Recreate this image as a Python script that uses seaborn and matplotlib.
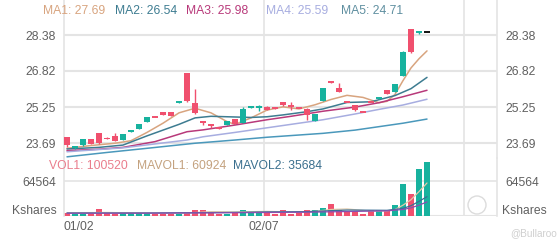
import matplotlib
matplotlib.use("Agg")
import matplotlib.pyplot as plt
from matplotlib.patches import Ellipse
import seaborn as sns
import numpy as np
import pandas as pd

# ---------------- data ----------------
opens  = [23.94, 23.47, 23.60, 23.85, 24.11, 23.92, 23.99, 23.82, 24.18, 24.30,
          24.62, 24.85, 25.02, 25.02, 25.44, 26.74, 25.44, 24.65, 24.51, 24.37,
          24.47, 24.72, 24.57, 25.20, 25.22, 25.27, 25.23, 25.46, 25.31, 25.21,
          25.17, 24.66, 25.53, 26.35, 26.06, 25.49, 25.34, 25.06, 25.49, 25.62,
          25.99, 25.92, 26.60, 28.64, 28.49, 28.50]
closes = [23.60, 23.55, 23.86, 23.65, 23.68, 23.87, 23.79, 24.08, 24.25, 24.51,
          24.81, 24.82, 24.91, 24.86, 25.47, 25.52, 24.98, 24.55, 24.44, 24.35,
          24.65, 24.51, 25.15, 25.30, 25.31, 25.12, 25.21, 25.34, 25.29, 25.19,
          24.91, 24.95, 26.06, 26.33, 25.92, 25.47, 25.12, 25.04, 25.47, 25.64,
          25.82, 26.25, 27.66, 27.66, 28.51, 28.50]
highs  = [23.94, 23.58, 23.88, 23.87, 24.13, 23.94, 24.14, 24.10, 24.26, 24.52,
          24.82, 24.86, 25.03, 25.03, 25.50, 26.75, 26.02, 24.66, 24.52, 24.40,
          24.66, 24.74, 25.27, 25.31, 25.32, 25.28, 25.26, 25.47, 25.48, 25.21,
          25.20, 24.96, 26.08, 26.37, 26.28, 25.49, 25.35, 25.06, 25.49, 25.68,
          26.00, 26.26, 27.67, 28.66, 28.56, 28.50]
lows   = [23.50, 23.44, 23.58, 23.63, 23.66, 23.86, 23.77, 23.80, 24.17, 24.29,
          24.61, 24.81, 24.90, 24.85, 25.42, 25.48, 24.97, 24.47, 24.35, 24.32,
          24.46, 24.50, 24.55, 25.19, 25.09, 25.11, 25.18, 25.30, 25.14, 25.19,
          24.69, 24.65, 25.52, 26.31, 25.90, 25.47, 25.08, 25.04, 25.47, 25.58,
          25.81, 25.91, 26.59, 27.62, 28.44, 28.50]
volumes = [5000, 3500, 3500, 4500, 12500, 5000, 3500, 5500, 5500, 5500,
           5500, 4000, 4500, 4500, 3000, 5500, 11000, 10500, 5000, 4500,
           3000, 7500, 11700, 5500, 5500, 5500, 4000, 11700, 3000, 6000,
           10500, 10500, 15400, 22800, 10500, 9000, 9000, 4500, 11000, 11000,
           11000, 19700, 58400, 41200, 87300, 100520]
vol_up = [0, 1, 1, 0, 0, 0, 0, 1, 1, 1,
          1, 0, 0, 0, 1, 0, 0, 0, 0, 0,
          1, 0, 1, 1, 1, 0, 0, 0, 0, 0,
          0, 1, 1, 0, 0, 0, 0, 0, 0, 1,
          0, 1, 1, 0, 1, 1]

ma1_idx = [0, 3, 6, 8, 10, 12, 14, 16, 18, 20, 21, 23, 25, 27, 29, 31, 33, 35, 37, 39, 40, 41, 42, 43, 44, 45]
ma1_val = [23.46, 23.58, 23.68, 23.79, 24.15, 24.55, 25.00, 25.20, 25.00, 24.62, 24.50, 24.78, 25.12,
           25.26, 25.17, 25.35, 25.58, 25.76, 25.67, 25.44, 25.50, 25.80, 26.40, 26.95, 27.35, 27.69]
ma2_idx = [0, 4, 7, 10, 14, 16, 18, 20, 23, 25, 27, 30, 32, 35, 38, 41, 43, 45]
ma2_val = [23.43, 23.50, 23.60, 24.00, 24.50, 24.78, 24.85, 24.83, 24.80, 24.83, 24.91, 25.05,
           25.17, 25.45, 25.48, 25.75, 26.05, 26.54]
ma3_idx = [0, 4, 7, 11, 15, 17, 21, 25, 28, 32, 36, 39, 42, 45]
ma3_val = [23.36, 23.42, 23.50, 23.75, 24.18, 24.26, 24.47, 24.70, 24.85, 25.07, 25.25, 25.44, 25.70, 25.98]
ma4_idx = [0, 7, 15, 17, 21, 26, 32, 36, 39, 42, 45]
ma4_val = [23.31, 23.48, 23.82, 23.96, 24.15, 24.40, 24.70, 24.95, 25.15, 25.34, 25.59]
ma5_idx = [0, 5, 10, 16, 21, 25, 32, 36, 39, 42, 45]
ma5_val = [23.09, 23.28, 23.46, 23.68, 23.82, 23.94, 24.11, 24.25, 24.40, 24.55, 24.73]

mavol1_idx = [0, 5, 10, 15, 18, 21, 25, 28, 31, 33, 35, 38, 40, 41, 42, 43, 44, 45]
mavol1_val = [6000, 6500, 5500, 5500, 8000, 7500, 8500, 7500, 8500, 12000, 13000, 9000, 9500,
              12000, 20000, 30000, 45000, 60924]
mavol2_idx = [0, 10, 20, 25, 30, 35, 40, 42, 43, 44, 45]
mavol2_val = [5500, 5500, 6500, 7500, 8000, 11000, 10500, 14000, 19000, 27000, 35684]
mavol3_idx = [0, 10, 20, 30, 36, 40, 42, 43, 44, 45]
mavol3_val = [5000, 5200, 6000, 7000, 8500, 9500, 12000, 15000, 20000, 26000]

price_ticks = [28.38, 26.82, 25.25, 23.69]
vol_tick = 64564
date_labels = ["01/02", "02/07"]
legend_ma = ["MA1: 27.69", "MA2: 26.54", "MA3: 25.98", "MA4: 25.59", "MA5: 24.71"]
legend_vol = ["VOL1: 100520", "MAVOL1: 60924", "MAVOL2: 35684"]

# ---------------- style ----------------
sns.set_style("white")
plt.rcParams['font.family'] = ['Liberation Sans', 'DejaVu Sans']

UP = '#17b29e'
DN = '#f0506e'
GRID = '#e4e4e4'
TXT = '#606060'
ma_colors = ['#d8a47f', '#3d7c91', '#b8397a', '#a7ade0', '#4a98bb']
vol_ma_colors = ['#e0c9a8', '#3a6f96', '#8a4fb0']

W, H = 560, 240
fig = plt.figure(figsize=(W / 100, H / 100), dpi=100)
L, R = 64, 497
ax_p = fig.add_axes([L / W, 1 - 158 / H, (R - L) / W, 158 / H])
ax_v = fig.add_axes([L / W, 1 - 216 / H, (R - L) / W, (216 - 158) / H])

n = len(opens)
x = np.arange(n)
xlim = (-0.375, 53.75)

for ax in (ax_p, ax_v):
    ax.set_xlim(*xlim)
    ax.set_facecolor('none')
    for s in ('top', 'bottom'):
        ax.spines[s].set_visible(False)
    for s in ('left', 'right'):
        ax.spines[s].set_color(GRID)
        ax.spines[s].set_linewidth(1.2)
    for gx in (24.625, 49.625):
        ax.axvline(gx, color=GRID, lw=1.2, zorder=0)
    ax.set_xticks([])

# price pane
ax_p.set_ylim(23.039, 29.90)
for t in price_ticks:
    ax_p.axhline(t, color=GRID, lw=1.5, zorder=0)
ax_p.set_yticks(price_ticks)
ax_p.set_yticklabels([f"{t:.2f}" for t in price_ticks])
ax_p.tick_params(axis='y', length=0, pad=6, labelsize=8.7, labelcolor=TXT,
                 left=True, right=True, labelleft=True, labelright=True)

ma_sets = [(ma1_idx, ma1_val), (ma2_idx, ma2_val), (ma3_idx, ma3_val),
           (ma4_idx, ma4_val), (ma5_idx, ma5_val)]
for (ix, vals), c in zip(ma_sets, ma_colors):
    sns.lineplot(x=ix, y=vals, ax=ax_p, color=c, lw=1.1, zorder=2)

body_w = 0.75
for i in range(n):
    o, c, hi, lo = opens[i], closes[i], highs[i], lows[i]
    if i == n - 1:
        col = '#111111'
    else:
        col = UP if c > o else DN
    ax_p.vlines(i, lo, hi, color=col, lw=1.0, zorder=3)
    h = abs(c - o)
    if h < 0.05:
        ax_p.hlines((o + c) / 2, i - body_w / 2, i + body_w / 2, color=col, lw=1.4, zorder=4)
    else:
        ax_p.bar(i, h, bottom=min(o, c), width=body_w, color=col, lw=0, zorder=4)

# volume pane
ax_v.set_ylim(0, 107000)
ax_v.axhline(vol_tick, color=GRID, lw=1.2, zorder=0)
ax_v.axhline(0, color=GRID, lw=1.5, zorder=0)
ax_v.set_yticks([vol_tick])
ax_v.set_yticklabels([str(vol_tick)])
ax_v.tick_params(axis='y', length=0, pad=6, labelsize=8.7, labelcolor=TXT,
                 left=True, right=True, labelleft=True, labelright=True)
vdf = pd.DataFrame({'x': x, 'v': volumes, 'up': vol_up})
ax_v.bar(vdf['x'], vdf['v'], width=0.75,
         color=[UP if u else DN for u in vdf['up']], lw=0, zorder=2, clip_on=False)
for (ix, vals), c in zip([(mavol1_idx, mavol1_val), (mavol2_idx, mavol2_val),
                          (mavol3_idx, mavol3_val)], vol_ma_colors):
    sns.lineplot(x=ix, y=vals, ax=ax_v, color=c, lw=0.9, zorder=3)
ax_v.set_ylabel('')
ax_p.set_ylabel('')

# text
fs = 8.7
ma_x = [43, 115, 186, 266, 341]
for xx, t, c in zip(ma_x, legend_ma, ma_colors[:4] + ['#5f8fa0']):
    fig.text(xx / W, 1 - 11 / H, t, color=c, fontsize=fs, va='center', ha='left')
vol_x = [49, 137, 233]
for xx, t, c in zip(vol_x, legend_vol, ['#ea7d8c', '#c4a27f', '#3a6f8e']):
    fig.text(xx / W, 1 - 166 / H, t, color=c, fontsize=fs, va='center', ha='left')
fig.text(57 / W, 1 - 211 / H, "Kshares", color=TXT, fontsize=fs, va='center', ha='right')
fig.text(502 / W, 1 - 211 / H, "Kshares", color=TXT, fontsize=fs, va='center', ha='left')
fig.text(64 / W, 1 - 227 / H, date_labels[0], color=TXT, fontsize=fs, va='center', ha='left')
fig.text(264 / W, 1 - 227 / H, date_labels[1], color=TXT, fontsize=fs, va='center', ha='center')
fig.text(510 / W, 1 - 233 / H, "@Bullaroo", color='#cfcfcf', fontsize=7.2, va='center', ha='left')
logo = Ellipse((477 / W, 1 - 205 / H), 18 / W, 18 / H, transform=fig.transFigure,
               fill=False, ec='#dcdcdc', lw=1.0)
fig.add_artist(logo)

fig.savefig("out.png", dpi=100)
